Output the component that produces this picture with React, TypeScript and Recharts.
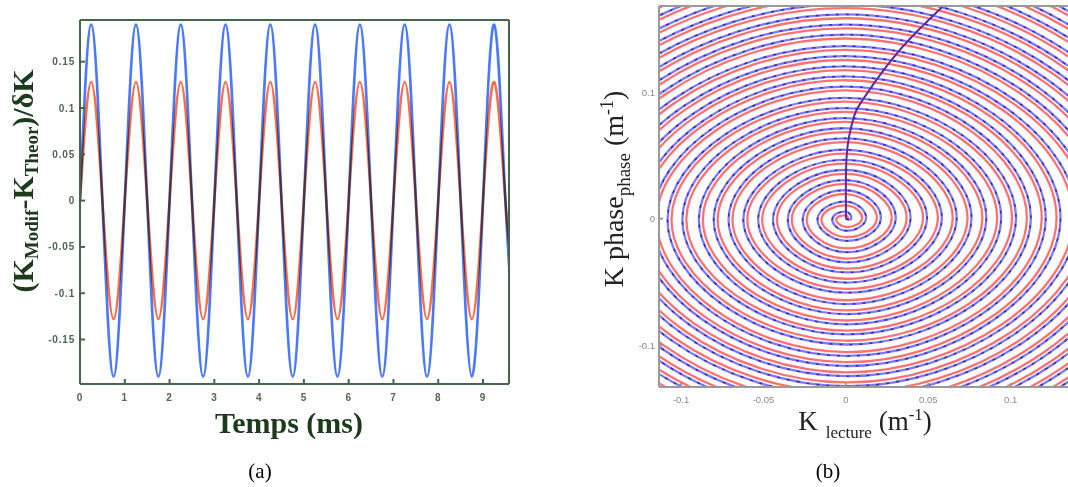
import React from "react";
import { LineChart, Line, XAxis, YAxis, Label } from "recharts";

// (a) écart relatif, relevé tous les quarts de période (ms)
const temps = [
  0, 0.25, 0.5, 0.75, 1, 1.25, 1.5, 1.75, 2, 2.25, 2.5, 2.75, 3, 3.25, 3.5, 3.75,
  4, 4.25, 4.5, 4.75, 5, 5.25, 5.5, 5.75, 6, 6.25, 6.5, 6.75, 7, 7.25, 7.5, 7.75,
  8, 8.25, 8.5, 8.75, 9, 9.25, 9.5, 9.75,
];
const ecartBleu = [
  0, 0.19, 0, -0.19, 0, 0.19, 0, -0.19, 0, 0.19, 0, -0.19, 0, 0.19, 0, -0.19,
  0, 0.19, 0, -0.19, 0, 0.19, 0, -0.19, 0, 0.19, 0, -0.19, 0, 0.19, 0, -0.19,
  0, 0.19, 0, -0.19, 0, 0.19, 0, -0.19,
];
const ecartRouge = [
  0, 0.128, 0, -0.128, 0, 0.128, 0, -0.128, 0, 0.128, 0, -0.128, 0, 0.128, 0, -0.128,
  0, 0.128, 0, -0.128, 0, 0.128, 0, -0.128, 0, 0.128, 0, -0.128, 0, 0.128, 0, -0.128,
  0, 0.128, 0, -0.128, 0, 0.128, 0, -0.128,
];
const ticksTemps = [0, 1, 2, 3, 4, 5, 6, 7, 8, 9];
const ticksEcart = [-0.15, -0.1, -0.05, 0, 0.05, 0.1, 0.15];

// (b) spirale : passages sur les axes, tour par tour
const spireDroite = [
  0.002, 0.011, 0.02, 0.029, 0.038, 0.048, 0.057, 0.066, 0.075, 0.084, 0.093, 0.102, 0.111, 0.12,
  0.129, 0.139, 0.148, 0.157, 0.166, 0.175, 0.184, 0.193, 0.202, 0.211, 0.22, 0.23, 0.239,
];
const spireHaut = [
  0.004, 0.012, 0.021, 0.029, 0.037, 0.045, 0.053, 0.062, 0.07, 0.078, 0.086, 0.094, 0.103, 0.111,
  0.119, 0.127, 0.135, 0.144, 0.152, 0.16, 0.168, 0.176, 0.184, 0.193, 0.201, 0.209, 0.217,
];
const spireGauche = [
  -0.007, -0.016, -0.025, -0.034, -0.043, -0.052, -0.061, -0.07, -0.079, -0.088, -0.098, -0.107,
  -0.116, -0.125, -0.134, -0.143, -0.152, -0.161, -0.17, -0.179, -0.189, -0.198, -0.207, -0.216,
  -0.225, -0.234, -0.243,
];
const spireBas = [
  -0.008, -0.016, -0.025, -0.033, -0.041, -0.049, -0.057, -0.066, -0.074, -0.082, -0.09, -0.098,
  -0.107, -0.115, -0.123, -0.131, -0.139, -0.148, -0.156, -0.164, -0.172, -0.18, -0.189, -0.197,
  -0.205, -0.213, -0.221,
];
const queueX = [0, 0, 0.0006, 0.0043, 0.0097, 0.0267, 0.0431, 0.0589, 0.067];
const queueY = [0, 0.013, 0.052, 0.078, 0.093, 0.124, 0.148, 0.168, 0.178];
const ticksLecture = [-0.1, -0.05, 0, 0.05, 0.1];
const ticksPhase = [-0.1, 0, 0.1];

const serif = '"Liberation Serif", "Times New Roman", serif';
const sans = '"Liberation Sans", Arial, sans-serif';
const vert = "#46664a";
const vertFonce = "#1c3a1c";
const gris = "#9a9a9a";

const donneesA = temps.map((t, i) => ({ t, bleu: ecartBleu[i], rouge: ecartRouge[i] }));

// rouge un peu à l'intérieur, bleu un peu à l'extérieur
const spirale = (ex: number, ey: number) => [
  { x: 0, y: 0 },
  ...spireDroite.flatMap((r, i) => [
    { x: r + ex, y: 0 },
    { x: 0, y: spireHaut[i] + ey },
    { x: spireGauche[i] - ex, y: 0 },
    { x: 0, y: spireBas[i] - ey },
  ]),
];
const spiraleBleue = spirale(0.0012, 0.0015);
const spiraleRouge = spirale(-0.0012, -0.0015);
const queue = queueX.map((x, i) => ({ x, y: queueY[i] }));

const tickA = { fill: "#4d6a4d", stroke: "none", fontSize: 10, fontWeight: 700, fontFamily: sans, letterSpacing: 0.8 };
const tickB = { fill: "#8a8a8a", stroke: "none", fontSize: 9.5, fontFamily: sans };

const ChartA = () => (
  <LineChart width={560} height={487} data={donneesA} margin={{ top: 19, right: 50, bottom: 0, left: 0 }}>
    <XAxis
      xAxisId="bas"
      dataKey="t"
      type="number"
      domain={[0, 9.58]}
      allowDataOverflow
      ticks={ticksTemps}
      interval={0}
      height={103}
      tickSize={-5}
      tickMargin={15}
      stroke={vert}
      strokeWidth={2}
      tick={tickA}
    >
      <Label
        content={() => (
          <g>
            <text x={289} y={433} textAnchor="middle" fontFamily={serif} fontWeight={700} fontSize={30} fill={vertFonce}>
              Temps (ms)
            </text>
            <text x={260} y={478} textAnchor="middle" fontFamily={serif} fontSize={21} fill="#000">
              (a)
            </text>
          </g>
        )}
      />
    </XAxis>
    <XAxis
      xAxisId="haut"
      orientation="top"
      dataKey="t"
      type="number"
      domain={[0, 9.58]}
      allowDataOverflow
      ticks={ticksTemps}
      interval={0}
      height={1}
      tickSize={-5}
      tick={false}
      stroke={vert}
      strokeWidth={2}
    />
    <YAxis
      yAxisId="g"
      type="number"
      domain={[-0.198, 0.195]}
      allowDataOverflow
      ticks={ticksEcart}
      interval={0}
      width={80}
      tickSize={-5}
      tickMargin={10}
      stroke={vert}
      strokeWidth={2}
      tick={tickA}
    >
      <Label
        content={() => (
          <text
            transform="translate(33,181) rotate(-90)"
            textAnchor="middle"
            fontFamily={serif}
            fontWeight={700}
            fontSize={30}
            fill={vertFonce}
          >
            (K
            <tspan dy={5} fontSize={19}>Modif</tspan>
            <tspan dy={-5}>-K</tspan>
            <tspan dy={5} fontSize={19}>Theor</tspan>
            <tspan dy={-5}>)/δK</tspan>
          </text>
        )}
      />
    </YAxis>
    <YAxis
      yAxisId="d"
      orientation="right"
      type="number"
      domain={[-0.198, 0.195]}
      allowDataOverflow
      ticks={ticksEcart}
      interval={0}
      width={1}
      tickSize={-5}
      tick={false}
      stroke={vert}
      strokeWidth={2}
    />
    <Line
      xAxisId="bas"
      yAxisId="g"
      dataKey="bleu"
      type="natural"
      stroke="#4a78ff"
      strokeWidth={2.6}
      dot={false}
      activeDot={false}
      isAnimationActive={false}
    />
    <Line
      className="melange"
      xAxisId="bas"
      yAxisId="g"
      dataKey="rouge"
      type="natural"
      stroke="#ff6e4a"
      strokeWidth={2.6}
      dot={false}
      activeDot={false}
      isAnimationActive={false}
    />
    <Line xAxisId="haut" yAxisId="d" dataKey="rouge" stroke="none" dot={false} activeDot={false} isAnimationActive={false} />
  </LineChart>
);

const ChartB = () => (
  <LineChart width={520} height={487} margin={{ top: 5, right: 5, bottom: 0, left: 0 }}>
    <XAxis
      xAxisId="bas"
      dataKey="x"
      type="number"
      domain={[-0.1134, 0.139]}
      allowDataOverflow
      ticks={ticksLecture}
      interval={0}
      height={100}
      tickSize={-4}
      tickMargin={13}
      stroke={gris}
      strokeWidth={2}
      tick={tickB}
    >
      <Label
        content={() => (
          <g>
            <text x={305} y={430} textAnchor="middle" fontFamily={serif} fontSize={27} fill="#222">
              K
              <tspan dx={8} dy={8} fontSize={17}>lecture</tspan>
              <tspan dy={-8}> (m</tspan>
              <tspan dy={-10} fontSize={17}>-1</tspan>
              <tspan dy={10}>)</tspan>
            </text>
            <text x={268} y={478} textAnchor="middle" fontFamily={serif} fontSize={21} fill="#000">
              (b)
            </text>
          </g>
        )}
      />
    </XAxis>
    <XAxis
      xAxisId="haut"
      orientation="top"
      dataKey="x"
      type="number"
      domain={[-0.1134, 0.139]}
      allowDataOverflow
      ticks={ticksLecture}
      interval={0}
      height={1}
      tickSize={-4}
      tick={false}
      stroke={gris}
      strokeWidth={2}
    />
    <YAxis
      yAxisId="g"
      type="number"
      domain={[-0.1331, 0.1682]}
      allowDataOverflow
      ticks={ticksPhase}
      interval={0}
      width={99}
      tickSize={-4}
      tickMargin={8}
      stroke={gris}
      strokeWidth={2}
      tick={tickB}
    >
      <Label
        content={() => (
          <text transform="translate(63,189) rotate(-90)" textAnchor="middle" fontFamily={serif} fontSize={28} fill="#222">
            K phase
            <tspan dy={7} fontSize={19}>phase</tspan>
            <tspan dy={-7}> (m</tspan>
            <tspan dy={-10} fontSize={18}>-1</tspan>
            <tspan dy={10}>)</tspan>
          </text>
        )}
      />
    </YAxis>
    <Line
      xAxisId="bas"
      yAxisId="g"
      data={spiraleBleue}
      dataKey="y"
      type="natural"
      stroke="#7a7aff"
      strokeWidth={2.3}
      dot={false}
      activeDot={false}
      isAnimationActive={false}
    />
    <Line
      className="melange"
      xAxisId="bas"
      yAxisId="g"
      data={spiraleRouge}
      dataKey="y"
      type="natural"
      stroke="#ff7272"
      strokeWidth={2.3}
      dot={false}
      activeDot={false}
      isAnimationActive={false}
    />
    <Line
      xAxisId="bas"
      yAxisId="g"
      data={spiraleBleue}
      dataKey="y"
      type="natural"
      stroke="#4a2896"
      strokeWidth={1.5}
      strokeDasharray="3 7"
      dot={false}
      activeDot={false}
      isAnimationActive={false}
    />
    <Line
      xAxisId="bas"
      yAxisId="g"
      data={queue}
      dataKey="y"
      type="natural"
      stroke="#5a2a9e"
      strokeWidth={2}
      dot={false}
      activeDot={false}
      isAnimationActive={false}
    />
    <Line xAxisId="haut" yAxisId="g" data={queue} dataKey="y" stroke="none" dot={false} activeDot={false} isAnimationActive={false} />
  </LineChart>
);

export default function App() {
  return (
    <div style={{ position: "absolute", left: 0, top: 0, width: 1068, height: 487, overflow: "hidden", background: "#fff" }}>
      <style>{".melange path { mix-blend-mode: multiply; }"}</style>
      <div style={{ position: "absolute", left: 0, top: 0 }}>
        <ChartA />
      </div>
      <div style={{ position: "absolute", left: 560, top: 0, width: 508, height: 487, overflow: "hidden" }}>
        <div style={{ position: "absolute", left: 0, top: 0 }}>
          <ChartB />
        </div>
      </div>
    </div>
  );
}
